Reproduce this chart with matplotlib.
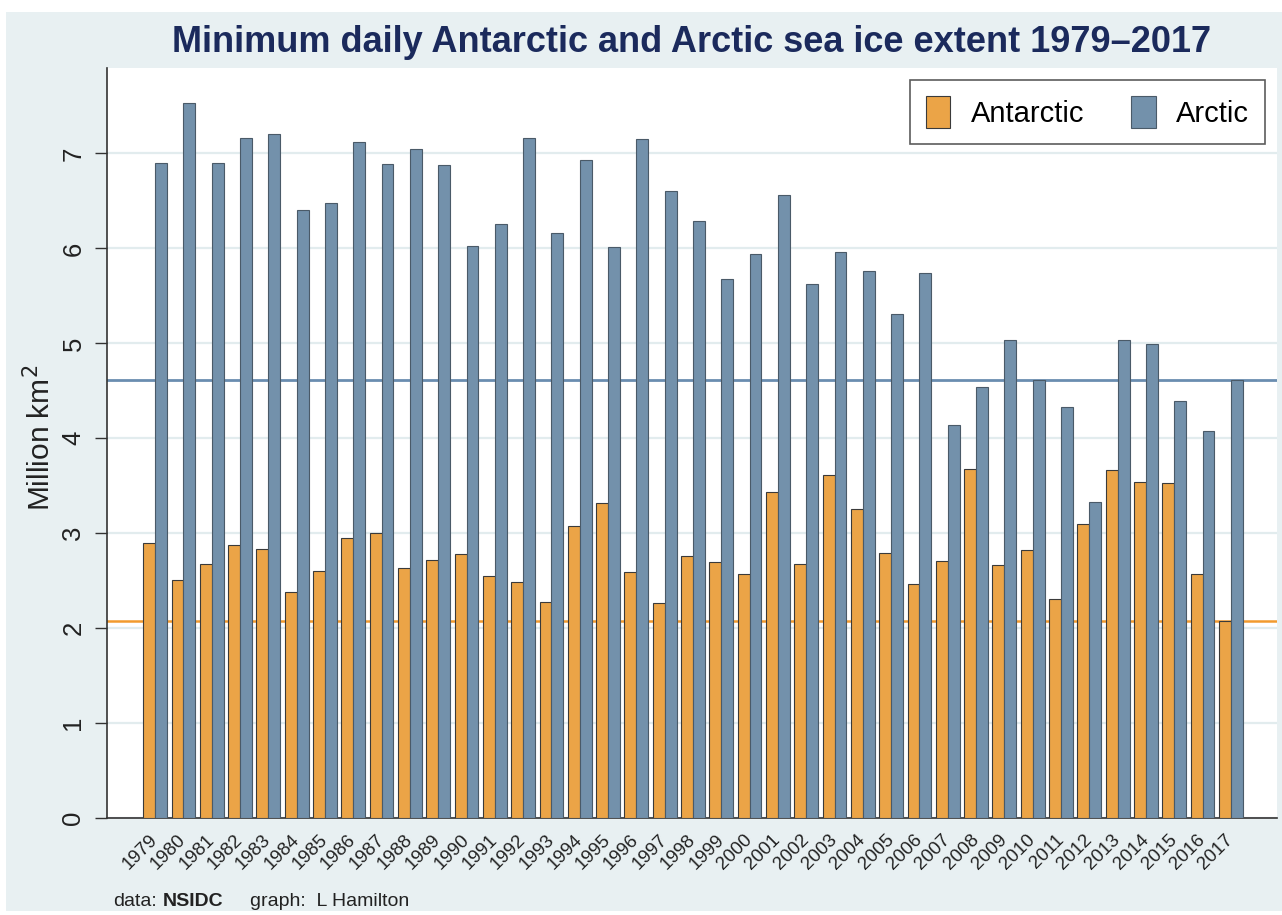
import numpy as np
import matplotlib
matplotlib.use('Agg')
import matplotlib.pyplot as plt
from matplotlib.patches import Rectangle

plt.rcParams['font.family'] = ['Liberation Sans', 'DejaVu Sans']

# Minimum daily sea ice extent, million km2
years = list(range(1979, 2018))
antarctic = [2.90, 2.51, 2.68, 2.88, 2.83, 2.38, 2.60, 2.95, 3.00, 2.63,
             2.72, 2.78, 2.55, 2.49, 2.28, 3.08, 3.32, 2.59, 2.26, 2.76,
             2.70, 2.57, 3.43, 2.68, 3.61, 3.25, 2.79, 2.47, 2.71, 3.68,
             2.66, 2.82, 2.31, 3.10, 3.67, 3.54, 3.53, 2.57, 2.07]
arctic = [6.90, 7.53, 6.90, 7.16, 7.20, 6.40, 6.48, 7.12, 6.89, 7.05,
          6.88, 6.02, 6.26, 7.16, 6.16, 6.93, 6.01, 7.15, 6.60, 6.29,
          5.68, 5.94, 6.56, 5.63, 5.96, 5.76, 5.31, 5.74, 4.14, 4.54,
          5.04, 4.61, 4.33, 3.33, 5.04, 4.99, 4.39, 4.08, 4.61]
y_ticks = [0, 1, 2, 3, 4, 5, 6, 7]

c_ant = '#eba447'
c_arc = '#7391ab'
c_ant_line = '#f29a2e'
c_arc_line = '#6a8db0'
bg = '#e8f0f2'

fig = plt.figure(figsize=(12.82, 9.15), dpi=100)
fig.patch.set_facecolor('white')
fig.add_artist(Rectangle((6 / 1282, 0.004), 1 - 6 / 1282, 0.987 - 0.004,
                         transform=fig.transFigure, facecolor=bg,
                         edgecolor='none', zorder=-10))

ax = fig.add_axes([107 / 1282, 1 - 818 / 915, 1170 / 1282, 750 / 915])
ax.set_facecolor('white')

x = np.arange(len(years))
w = 0.42
ax.bar(x - w / 2, antarctic, width=w, color=c_ant, edgecolor='#3a3a3a',
       linewidth=0.8, label='Antarctic', zorder=3)
ax.bar(x + w / 2, arctic, width=w, color=c_arc, edgecolor='#4a5a68',
       linewidth=0.8, label='Arctic', zorder=3)

# reference lines at the latest year's values
ax.axhline(arctic[-1], color=c_arc_line, linewidth=2.0, zorder=2)
ax.axhline(antarctic[-1], color=c_ant_line, linewidth=1.8, zorder=2)

ax.set_xlim(-1.7, len(years) - 1 + 1.63)
ax.set_ylim(0, 7.9)
ax.set_yticks(y_ticks)
ax.set_yticklabels([str(t) for t in y_ticks])
ax.yaxis.grid(True, color='#e2ecee', linewidth=1.6, zorder=0)
ax.set_axisbelow(True)

ax.set_xticks(x)
ax.set_xticklabels([str(y) for y in years], rotation=45, ha='right',
                   va='center', rotation_mode='anchor', fontsize=13.5,
                   color='#222222')
ax.tick_params(axis='x', length=0, pad=14)
ax.tick_params(axis='y', direction='out', length=8.5, width=1.0,
               color='#333333', labelsize=18.5, labelrotation=90, pad=7,
               labelcolor='#222222')
for lab in ax.get_yticklabels():
    lab.set_va('center')
    lab.set_ha('right')

for s in ['top', 'right']:
    ax.spines[s].set_visible(False)
ax.spines['left'].set_color('#333333')
ax.spines['bottom'].set_color('#333333')
ax.spines['left'].set_linewidth(1.2)
ax.spines['bottom'].set_linewidth(1.2)

leg = ax.legend(loc='upper right', bbox_to_anchor=(0.99, 0.984), ncol=2,
                fontsize=21, frameon=True, fancybox=False, borderaxespad=0,
                handlelength=0.85, handleheight=1.3, handletextpad=0.7,
                columnspacing=1.6, borderpad=0.55)
leg.get_frame().set_edgecolor('#333333')
leg.get_frame().set_linewidth(1.2)
leg.get_frame().set_facecolor('white')

fig.text(40 / 1282, 1 - 438 / 915, 'Million km$^2$', rotation=90,
         ha='center', va='center', fontsize=21.5, color='#222222')

fig.text(692 / 1282, 1 - 43 / 915,
         'Minimum daily Antarctic and Arctic sea ice extent 1979\u20132017',
         ha='center', va='center', fontsize=26, fontweight='bold',
         color='#1b2a5c')

fig.text(113 / 1282, 1 - 901 / 915, 'data:', ha='left', va='center',
         fontsize=14, color='#222222')
fig.text(163 / 1282, 1 - 901 / 915, 'NSIDC', ha='left', va='center',
         fontsize=14, fontweight='bold', color='#222222')
fig.text(250 / 1282, 1 - 901 / 915, 'graph:  L Hamilton', ha='left',
         va='center', fontsize=14, color='#222222')

fig.savefig('out.png', dpi=100, facecolor=fig.get_facecolor())
